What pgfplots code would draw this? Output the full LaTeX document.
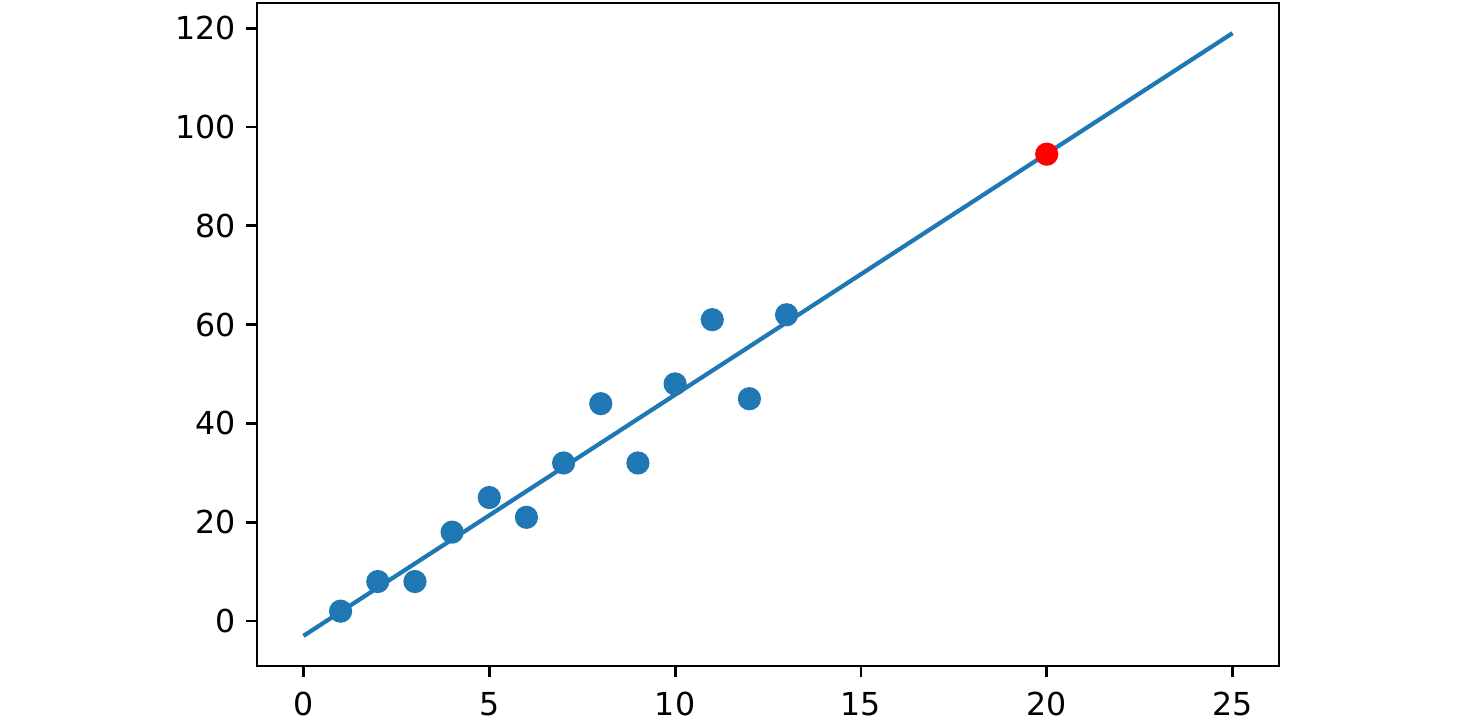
\documentclass[border=0pt]{standalone}
\usepackage{pgfplots}
\pgfplotsset{compat=1.18}
\usepackage{fontspec}
\setmainfont{DejaVu Sans}
\definecolor{mplblue}{HTML}{1F77B4}
\begin{document}
\begin{tikzpicture}
\useasboundingbox (-2.57cm,-0.49cm) rectangle (12.04cm,6.66cm);
\begin{axis}[
  at={(0,0)}, anchor=south west,
  width=10.22cm, height=6.63cm, scale only axis,
  xmin=-1.25, xmax=26.25, ymin=-9.1, ymax=125.1,
  xtick={0,5,10,15,20,25}, ytick={0,20,40,60,80,100,120},
  tick align=outside, tick pos=left,
  major tick length=1.1mm,
  every tick/.style={black, line width=0.8pt},
  axis line style={line width=0.8pt},
  tick label style={font=\fontsize{9}{10}\selectfont},
  /pgf/number format/assume math mode=true,
  xticklabel style={yshift=-0.3mm},
  yticklabel style={xshift=0.2mm},
  clip=false,
]
\addplot[only marks, mark=*, mark size=3.1pt, mplblue, mark options={draw=mplblue, fill=mplblue}] coordinates {
(1,2) (2,8) (3,8) (4,18) (5,25) (6,21) (7,32) (8,44) (9,32) (10,48) (11,61) (12,45) (13,62)
};
\addplot[only marks, mark=*, mark size=3.1pt, red, mark options={draw=red, fill=red}] coordinates {(20,94.5)};
\addplot[mplblue, line width=1.2pt] coordinates {(0,-3.0) (25,119.0)};
\end{axis}
\end{tikzpicture}
\end{document}
